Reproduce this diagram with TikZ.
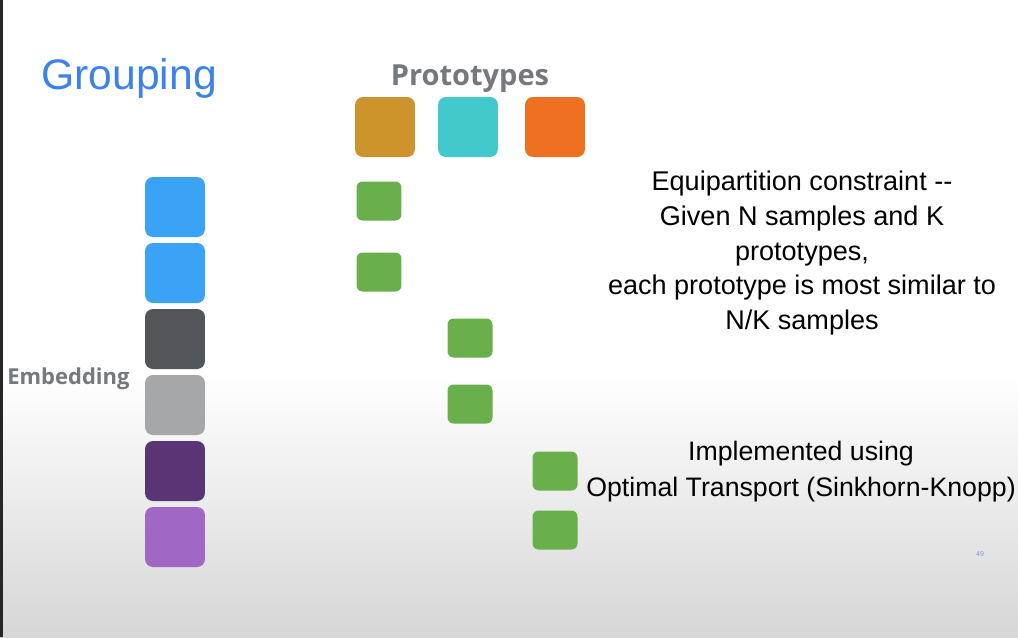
\documentclass[tikz,border=0pt]{standalone}
\usepackage{fontspec}
\setmainfont{Liberation Sans}
\newfontfamily\labelfont{Open Sans}
\usepackage{tikz}
\usetikzlibrary{positioning}

\definecolor{titleblue}{HTML}{3B82EA}
\definecolor{labelgray}{HTML}{75787E}
\definecolor{embblue}{HTML}{3BA3F6}
\definecolor{embdark}{HTML}{52565B}
\definecolor{emblight}{HTML}{A5A7A8}
\definecolor{embpurple}{HTML}{5A3576}
\definecolor{emblilac}{HTML}{A067C5}
\definecolor{protogold}{HTML}{CC942B}
\definecolor{protocyan}{HTML}{43C8CC}
\definecolor{protoorange}{HTML}{EF7020}
\definecolor{assigngreen}{HTML}{69AF4C}
\definecolor{pagenumblue}{HTML}{7A9AD8}

\begin{document}
\begin{tikzpicture}[
  x=0.02cm, y=-0.02cm,
  tile/.style={rectangle, rounded corners=0.16cm, minimum size=1.2cm, inner sep=0pt},
  assign/.style={rectangle, rounded corners=0.12cm, minimum width=0.9cm, minimum height=0.78cm,
                 inner sep=0pt, fill=assigngreen},
  sidelabel/.style={font=\labelfont\bfseries\fontsize{16.5}{18}\selectfont, labelgray, inner sep=0pt},
  note/.style={align=center, font=\fontsize{15.4}{19.9}\selectfont, inner sep=0pt},
]
  % --- slide background ---
  \useasboundingbox (0,0) rectangle (1018,637);
  \fill[white] (0,0) rectangle (1018,637);
  \shade[top color=white, bottom color=black!16] (0,375) rectangle (1018,637);
  \fill[black!85] (0,0) rectangle (3,637);

  % --- title ---
  \node[titleblue, font=\fontsize{24.3}{28}\selectfont, anchor=west, inner sep=0pt] (title) at (41,78) {Grouping};

  % --- embedding column ---
  \foreach \i/\col in {1/embblue, 2/embblue, 3/embdark, 4/emblight, 5/embpurple, 6/emblilac} {
    \node[tile, fill=\col] (emb\i) at (175,{141+66*\i}) {};
  }
  \node[sidelabel, anchor=west, font=\labelfont\bfseries\fontsize{12.5}{14}\selectfont] (emblabel) at (7,379) {Embedding};

  % --- prototypes ---
  \foreach \i/\x/\col in {1/385/protogold, 2/468/protocyan, 3/555/protoorange} {
    \node[tile, fill=\col] (proto\i) at (\x,127) {};
  }
  \node[sidelabel] (protolabel) at (470,79) {Prototypes};

  % --- assignments (N/K per prototype) ---
  \foreach \i/\x/\y in {1/379/201, 2/379/272, 3/470/338, 4/470/404, 5/555/471, 6/555/530} {
    \node[assign] (asg\i) at (\x,\y) {};
  }

  % --- notes ---
  \node[note] (equinote) at (802,253) {Equipartition constraint -{}-\\Given N samples and K\\prototypes,\\each prototype is most similar to\\N/K samples};
  \node[note, font=\fontsize{15.2}{20.5}\selectfont] (otnote) at (801,472) {Implemented using\\Optimal Transport (Sinkhorn-Knopp)};

  % page number
  \node[pagenumblue, font=\fontsize{4}{5}\selectfont, inner sep=0pt] (pagenum) at (980,554) {49};
\end{tikzpicture}
\end{document}
